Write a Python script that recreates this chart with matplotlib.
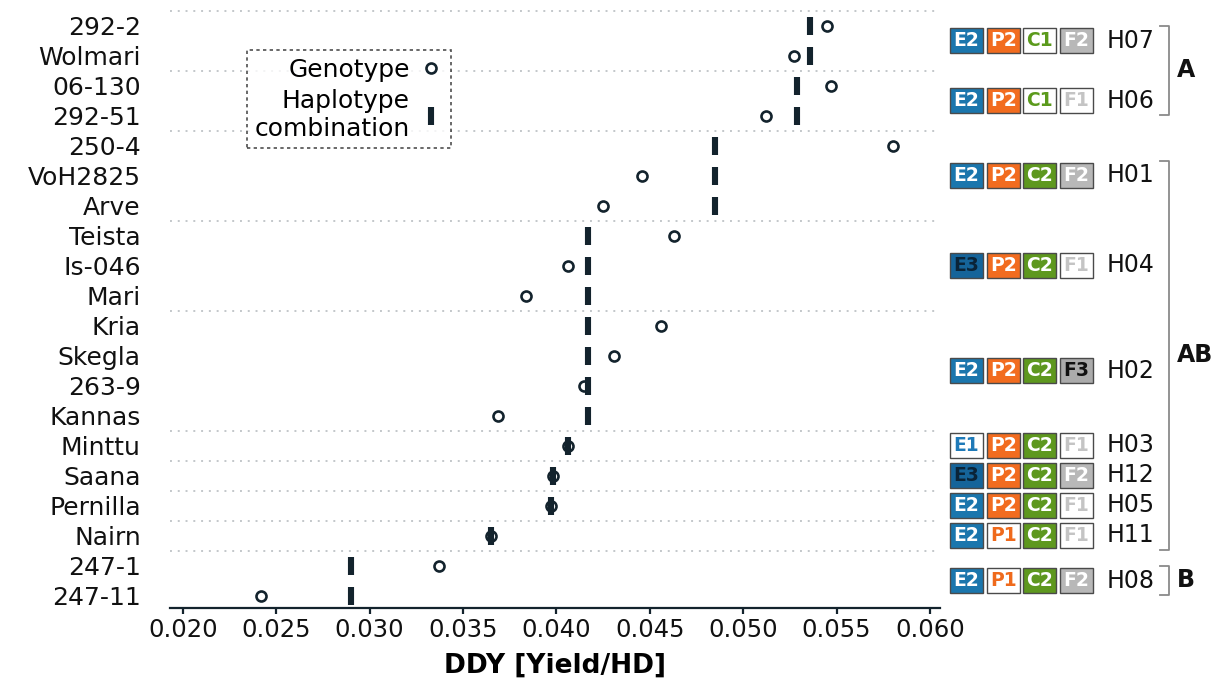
import matplotlib
matplotlib.use("Agg")
import matplotlib.pyplot as plt
import matplotlib.transforms as mtransforms
from matplotlib.patches import Rectangle
from matplotlib.lines import Line2D

plt.rcParams['font.family'] = ['DejaVu Sans']

# genotypes from top to bottom
genotypes = ["292-2", "Wolmari", "06-130", "292-51", "250-4", "VoH2825", "Arve",
             "Teista", "Is-046", "Mari", "Kria", "Skegla", "263-9", "Kannas",
             "Minttu", "Saana", "Pernilla", "Nairn", "247-1", "247-11"]
genotype_ddy = [0.0545, 0.0527, 0.0547, 0.0512, 0.0580, 0.0446, 0.0425,
                0.0463, 0.0406, 0.0384, 0.0456, 0.0431, 0.0415, 0.0369,
                0.0406, 0.0398, 0.0397, 0.0365, 0.0337, 0.0242]
genotype_hap = ["H07", "H07", "H06", "H06", "H01", "H01", "H01",
                "H04", "H04", "H04", "H02", "H02", "H02", "H02",
                "H03", "H12", "H05", "H11", "H08", "H08"]

haplotypes = ["H07", "H06", "H01", "H04", "H02", "H03", "H12", "H05", "H11", "H08"]
haplotype_ddy = [0.0536, 0.0529, 0.0485, 0.0417, 0.0417, 0.0406, 0.0398, 0.0397, 0.0365, 0.0290]
haplotype_alleles = [["E2", "P2", "C1", "F2"], ["E2", "P2", "C1", "F1"],
                     ["E2", "P2", "C2", "F2"], ["E3", "P2", "C2", "F1"],
                     ["E2", "P2", "C2", "F3"], ["E1", "P2", "C2", "F1"],
                     ["E3", "P2", "C2", "F2"], ["E2", "P2", "C2", "F1"],
                     ["E2", "P1", "C2", "F1"], ["E2", "P1", "C2", "F2"]]

groups = ["A", "AB", "B"]
group_haps = [["H07", "H06"],
              ["H01", "H04", "H02", "H03", "H12", "H05", "H11"],
              ["H08"]]

# allele -> (face colour, text colour)
allele_style = {
    "E1": ("white", "#1f7ab8"), "E2": ("#1a76ad", "white"), "E3": ("#15649a", "#0a2438"),
    "P1": ("white", "#ef6a1c"), "P2": ("#f26c1f", "white"),
    "C1": ("white", "#5b9a1c"), "C2": ("#5e981e", "white"),
    "F1": ("white", "#c4c4c4"), "F2": ("#b8b8b8", "white"), "F3": ("#ababab", "#111111"),
}

dark = "#13232d"

fig = plt.figure(figsize=(12.22, 6.82), dpi=100)
ax = fig.add_axes([170 / 1222, 1 - 607.5 / 682, 770 / 1222, 600 / 682])

ypos = list(range(len(genotypes)))
hap_of = dict(zip(haplotypes, haplotype_ddy))
hap_rows = {h: [i for i, g in enumerate(genotype_hap) if g == h] for h in haplotypes}

# separators between haplotype groups
for h in haplotypes:
    ax.axhline(min(hap_rows[h]) - 0.5, color="#c3c7ca", lw=1.4, ls=(0, (1, 3)), zorder=0)

bar_x = [hap_of[h] for h in genotype_hap]
ax.plot(bar_x, ypos, ls="None", marker="|", ms=12.5, mew=4.4, color=dark, zorder=3)
ax.plot(genotype_ddy, ypos, ls="None", marker="o", ms=7.2, mew=1.9,
        mfc="none", mec=dark, zorder=4)

ax.set_xlim(0.01932, 0.06054)
ax.set_ylim(len(genotypes) - 0.6, -0.6)
ax.set_yticks(ypos)
ax.set_yticklabels(genotypes, fontsize=18, color="#111111")
ax.tick_params(axis="y", length=0, pad=21)
ax.set_xticks([0.020, 0.025, 0.030, 0.035, 0.040, 0.045, 0.050, 0.055, 0.060])
ax.set_xticklabels(["%.3f" % v for v in ax.get_xticks()])
ax.tick_params(axis="x", direction="out", length=4, width=1.6, color=dark,
               labelsize=17.5, pad=3.5, labelcolor="#111111")
for s in ["top", "right", "left"]:
    ax.spines[s].set_visible(False)
ax.spines["bottom"].set_color(dark)
ax.spines["bottom"].set_linewidth(1.6)
ax.set_xlabel("DDY [Yield/HD]", fontsize=19, fontweight="bold", labelpad=8)

# legend
handles = [Line2D([], [], ls="None", marker="o", ms=7.2, mew=1.9, mfc="none", mec=dark),
           Line2D([], [], ls="None", marker="|", ms=12.5, mew=4.4, color=dark)]
leg = ax.legend(handles, ["Genotype", "Haplotype\ncombination"], loc="upper right",
                bbox_to_anchor=(0.365, 0.929), markerfirst=False, fontsize=18,
                frameon=True, fancybox=False, borderpad=0.3, labelspacing=0.3,
                handlelength=1.0, handletextpad=0.35, borderaxespad=0)
leg.get_frame().set_edgecolor("#222222")
leg.get_frame().set_linestyle((0, (2, 2)))
leg.get_frame().set_linewidth(1.2)
for t in leg.get_texts():
    t.set_multialignment("right")

# haplotype allele boxes on the right
tr = mtransforms.blended_transform_factory(fig.transFigure, ax.transData)
box_w = 33 / 1222
box_x0 = 950 / 1222
step = 36.7 / 1222
hap_center = {}
for h, alleles in zip(haplotypes, haplotype_alleles):
    yc = (min(hap_rows[h]) + max(hap_rows[h])) / 2
    hap_center[h] = yc
    for k, a in enumerate(alleles):
        fc, tc = allele_style[a]
        x0 = box_x0 + k * step
        fig.add_artist(Rectangle((x0, yc - 0.43), box_w, 0.86, transform=tr,
                                 facecolor=fc, edgecolor="#4a4a4a", lw=1.0, clip_on=False))
        fig.text(x0 + box_w / 2, yc, a, transform=tr, ha="center", va="center",
                 fontsize=13.5, fontweight="bold", color=tc)
    fig.text(1107 / 1222, yc, h, transform=tr, ha="left", va="center",
             fontsize=17, color="#111111")

# group brackets
bx = 1169 / 1222
tick = 9 / 1222
for g, hs in zip(groups, group_haps):
    top = hap_center[hs[0]] - 0.5
    bot = hap_center[hs[-1]] + 0.47
    fig.add_artist(Line2D([bx - tick, bx, bx, bx - tick], [top, top, bot, bot],
                          transform=tr, color="#8a8a8a", lw=1.3))
    fig.text(1177 / 1222, (top + bot) / 2, g, transform=tr, ha="left", va="center",
             fontsize=17, fontweight="bold", color="#111111")

fig.savefig("out.png", dpi=100)
